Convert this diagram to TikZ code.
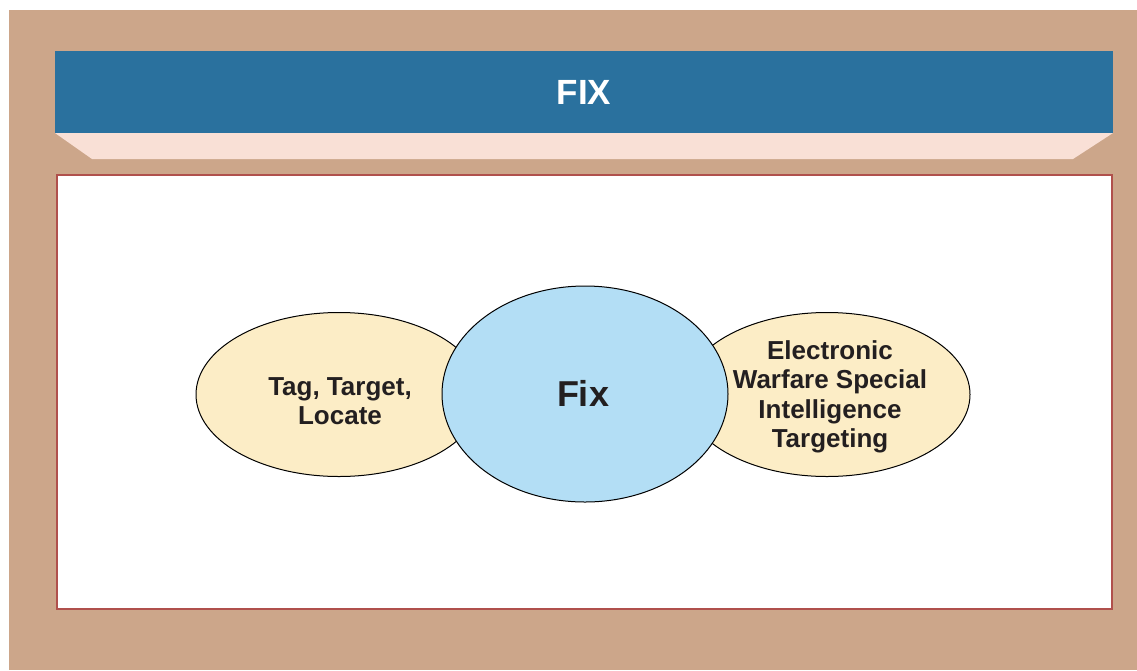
\documentclass[tikz,border=0pt]{standalone}
\usepackage{fontspec}
\setmainfont{Liberation Sans}
\usetikzlibrary{shapes.geometric}
\definecolor{tanbg}{HTML}{CCA68A}
\definecolor{titleblue}{HTML}{2A719E}
\definecolor{pinkband}{HTML}{F9E0D6}
\definecolor{boxred}{HTML}{B0504C}
\definecolor{ellfill}{HTML}{FCEDC6}
\definecolor{circfill}{HTML}{B3DEF5}
\definecolor{txt}{HTML}{231F20}
\tikzset{
  ovalbox/.style={ellipse, draw=black, line width=1pt, fill=ellfill, inner sep=0pt,
    minimum width=286pt, minimum height=164pt},
  centeroval/.style={ellipse, draw=black, line width=1pt, fill=circfill, inner sep=0pt,
    minimum width=286pt, minimum height=216pt},
  bodytext/.style={text=txt, align=center, font=\bfseries\fontsize{26}{29.5}\selectfont},
}
\begin{document}
\begin{tikzpicture}[x=1pt,y=-1pt]
\useasboundingbox (0,0) rectangle (1137,670);
\fill[white] (0,0) rectangle (1137,670);
\fill[tanbg] (9,10) rectangle (1137,670);
% pink band
\fill[pinkband] (55,133) -- (1113,133) -- (1073,159) -- (92,159) -- cycle;
% title bar
\node[fill=titleblue, minimum width=1058pt, minimum height=82pt, inner sep=0pt,
  text=white, font=\bfseries\fontsize{35}{40}\selectfont] (title) at (584,92) {FIX};
% white box
\node[fill=white, draw=boxred, line width=1.2pt, minimum width=1055pt, minimum height=434pt, inner sep=0pt] (panel) at (584.5,392) {};
% ellipses
\node[ovalbox] (left) at (339,394.5) {};
\node[ovalbox] (right) at (827,394.5) {};
\node[centeroval] (center) at (585,394) {};
\node[bodytext] (lefttext) at (340,401) {Tag, Target,\\Locate};
\node[bodytext] (righttext) at (830,397) {Electronic\\Warfare Special\\Intelligence\\Targeting};
\node[text=txt, font=\bfseries\fontsize{36}{40}\selectfont] (fixtext) at (583,393) {Fix};
\end{tikzpicture}
\end{document}
